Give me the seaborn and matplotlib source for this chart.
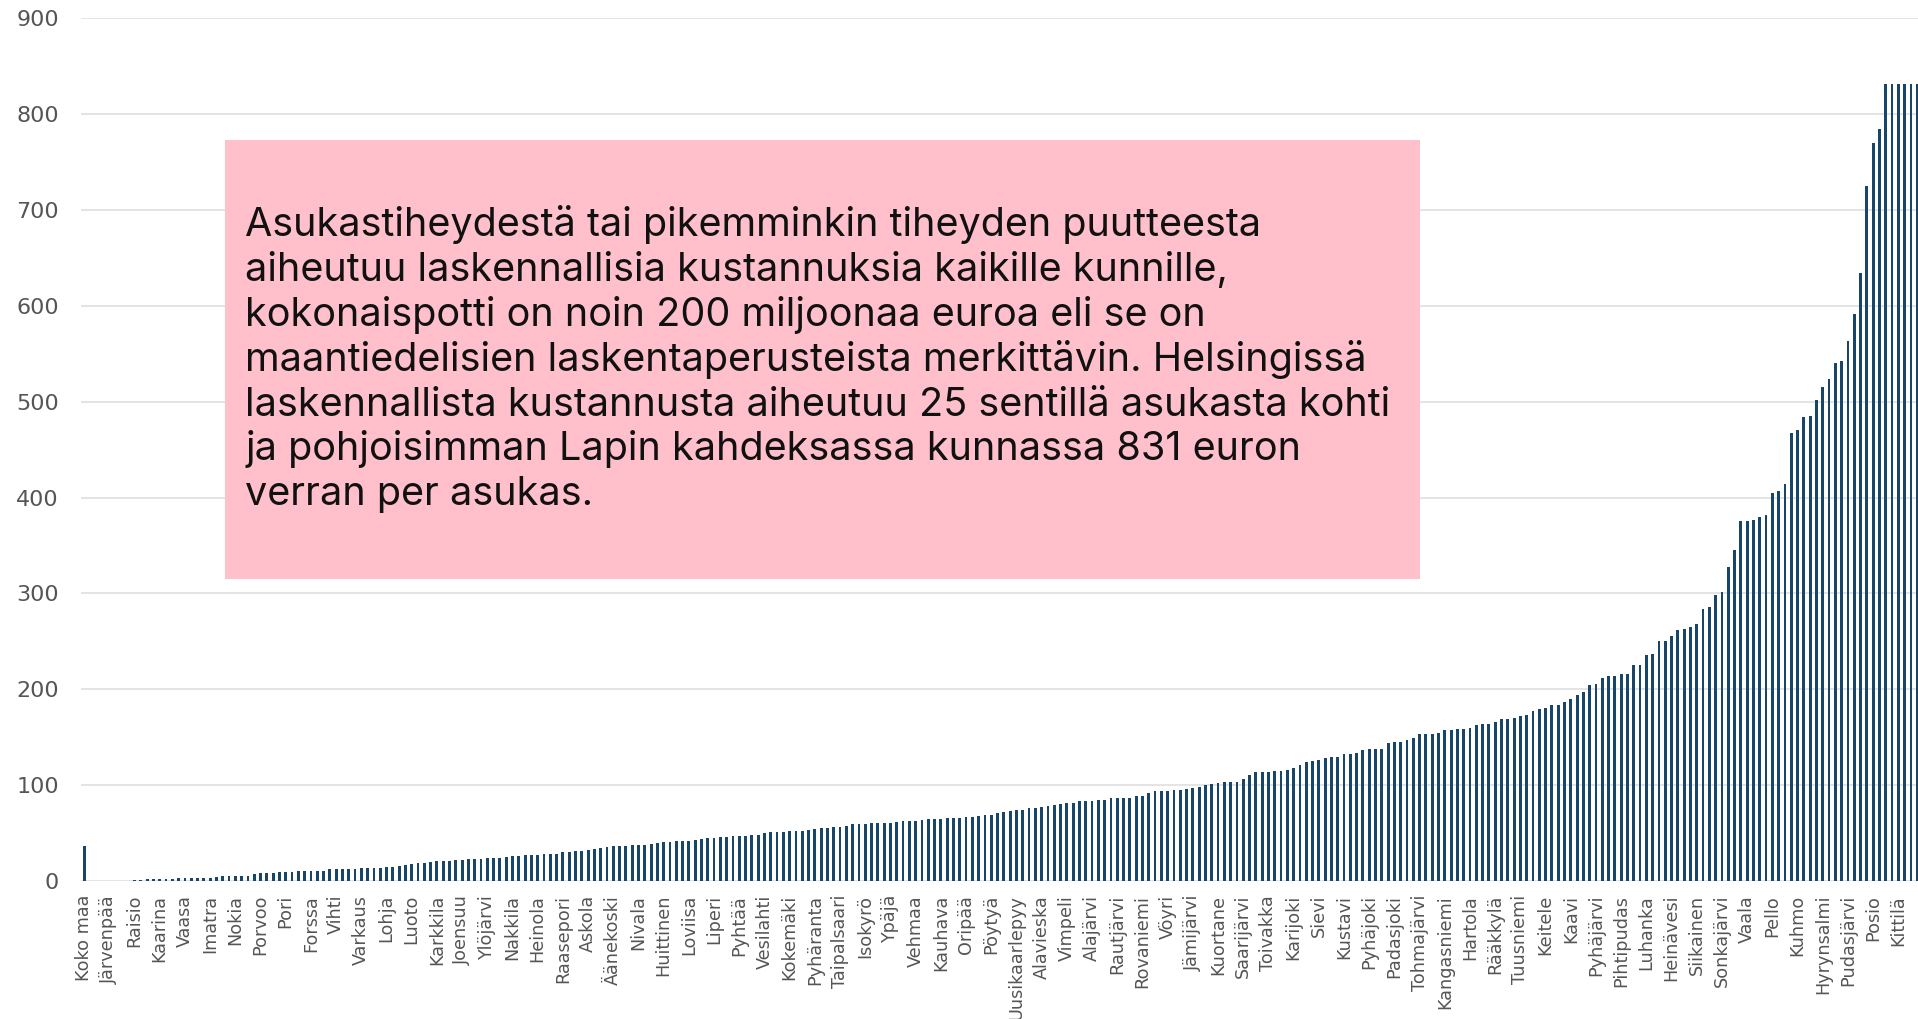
import numpy as np
import pandas as pd
import seaborn as sns
import matplotlib.pyplot as plt
from matplotlib.patches import Rectangle

# Laskennallinen kustannus asukastiheydestä, euroa / asukas (järjestetty)
values = [
    37.0, 0.25, 0.3, 0.3, 0.3, 0.4, 0.4, 0.5, 0.7, 0.7,
    1.7, 2.0, 2.0, 2.0, 2.4, 2.8, 3.1, 3.1, 3.1, 3.1,
    3.5, 4.2, 5.2, 5.2, 5.2, 5.2, 5.6, 7.3, 8.7, 8.7,
    8.7, 9.4, 9.4, 9.4, 10.1, 10.4, 10.4, 10.4, 10.8, 12.5,
    12.9, 12.9, 12.9, 12.9, 13.6, 13.6, 13.6, 13.6, 14.3, 15.0,
    15.5, 17.2, 18.1, 19.1, 19.1, 20.2, 20.5, 20.5, 21.2, 21.9,
    22.3, 23.0, 23.0, 23.3, 24.0, 24.0, 24.3, 25.0, 26.4, 26.4,
    26.8, 27.5, 27.5, 28.2, 28.5, 28.5, 30.3, 30.6, 31.3, 31.7,
    32.7, 33.4, 34.4, 35.8, 36.2, 36.2, 36.9, 37.9, 37.9, 37.9,
    39.0, 39.3, 40.3, 41.0, 41.7, 41.7, 42.1, 42.4, 43.8, 44.9,
    45.2, 45.6, 46.3, 47.3, 47.3, 47.3, 48.3, 48.3, 50.1, 50.8,
    51.5, 51.5, 51.8, 51.8, 52.5, 52.9, 54.6, 55.7, 55.7, 56.3,
    56.7, 57.7, 59.5, 59.8, 59.8, 60.2, 60.5, 60.5, 60.9, 61.9,
    62.6, 63.0, 63.0, 64.0, 64.7, 64.7, 64.7, 65.4, 66.1, 66.1,
    66.8, 66.8, 67.8, 68.9, 68.9, 71.0, 72.3, 73.0, 73.7, 73.7,
    75.8, 76.5, 77.2, 78.3, 79.5, 80.2, 81.6, 81.6, 83.0, 83.3,
    83.7, 84.0, 84.7, 86.1, 86.1, 86.4, 86.8, 88.5, 88.9, 91.3,
    94.1, 94.1, 94.4, 94.8, 94.8, 95.8, 96.5, 97.9, 99.7, 101.4,
    102.4, 102.8, 103.5, 103.8, 105.9, 110.8, 113.2, 113.2, 113.6, 114.3,
    114.6, 115.7, 117.4, 120.9, 124.3, 125.4, 126.4, 128.5, 128.9, 129.6,
    132.7, 133.0, 133.7, 136.6, 138.0, 138.2, 138.2, 143.8, 144.8, 144.8,
    147.6, 149.7, 153.1, 153.5, 153.5, 154.5, 157.6, 157.6, 159.0, 159.0,
    160.1, 162.5, 163.5, 163.5, 165.6, 168.8, 169.4, 170.1, 172.2, 172.9,
    177.4, 179.2, 180.6, 183.3, 183.7, 186.8, 190.3, 194.1, 197.2, 204.9,
    205.6, 211.8, 213.5, 213.9, 215.6, 216.0, 225.0, 225.0, 235.4, 236.8,
    250.0, 250.3, 255.6, 261.8, 263.2, 265.0, 268.0, 284.0, 286.0, 298.0,
    302.0, 328.0, 345.0, 376.0, 376.0, 377.0, 380.0, 382.0, 405.0, 407.0,
    414.0, 467.0, 470.0, 484.0, 485.0, 502.0, 515.0, 524.0, 540.0, 543.0,
    563.0, 592.0, 634.0, 725.0, 770.0, 785.0, 831.0, 831.0, 831.0, 831.0,
    831.0, 831.0, 831.0, 831.0,
]

# joka neljäs kunta nimetään akselilla (viimeinen jää kuvan ulkopuolelle)
tick_names = [
    'Koko maa', 'Järvenpää', 'Raisio', 'Kaarina', 'Vaasa', 'Imatra', 'Nokia',
    'Porvoo', 'Pori', 'Forssa', 'Vihti', 'Varkaus', 'Lohja', 'Luoto',
    'Karkkila', 'Joensuu', 'Ylöjärvi', 'Nakkila', 'Heinola', 'Raasepori',
    'Askola', 'Äänekoski', 'Nivala', 'Huittinen', 'Loviisa', 'Liperi',
    'Pyhtää', 'Vesilahti', 'Kokemäki', 'Pyhäranta', 'Taipalsaari', 'Isokyrö',
    'Ypäjä', 'Vehmaa', 'Kauhava', 'Oripää', 'Pöytyä', 'Uusikaarlepyy',
    'Alavieska', 'Vimpeli', 'Alajärvi', 'Rautjärvi', 'Rovaniemi', 'Vöyri',
    'Jämijärvi', 'Kuortane', 'Saarijärvi', 'Toivakka', 'Karijoki', 'Sievi',
    'Kustavi', 'Pyhäjoki', 'Padasjoki', 'Tohmajärvi', 'Kangasniemi',
    'Hartola', 'Rääkkylä', 'Tuusniemi', 'Keitele', 'Kaavi', 'Pyhäjärvi',
    'Pihtipudas', 'Luhanka', 'Heinävesi', 'Siikainen', 'Sonkajärvi', 'Vaala',
    'Pello', 'Kuhmo', 'Hyrynsalmi', 'Pudasjärvi', 'Posio', 'Kittilä',
]

y_ticks = [0, 100, 200, 300, 400, 500, 600, 700, 800, 900]

note_lines = [
    'Asukastiheydestä tai pikemminkin tiheyden puutteesta',
    'aiheutuu laskennallisia kustannuksia kaikille kunnille,',
    'kokonaispotti on noin 200 miljoonaa euroa eli se on',
    'maantiedelisien laskentaperusteista merkittävin. Helsingissä',
    'laskennallista kustannusta aiheutuu 25 sentillä asukasta kohti',
    'ja pohjoisimman Lapin kahdeksassa kunnassa 831 euron',
    'verran per asukas.',
]

df = pd.DataFrame({'pos': np.arange(len(values)), 'value': values})

W, H = 1918, 1019
sns.set_style('white')
fig = plt.figure(figsize=(W / 100, H / 100), dpi=100)

# akseli jatkuu kuvan oikean reunan yli kuten alkuperäisessä
left_px, right_px, base_px, top_px = 81, 1933, 881, 18.3
ax = fig.add_axes([left_px / W, (H - base_px) / H,
                   (right_px - left_px) / W, (base_px - top_px) / H])

sns.barplot(data=df, x='pos', y='value', ax=ax, color='#184668',
            saturation=1, width=0.45, linewidth=0, errorbar=None)

ax.set_xlim(-0.5, len(values) - 0.5)
ax.set_ylim(0, 900)
ax.set_yticks(y_ticks)
ax.set_yticklabels([str(t) for t in y_ticks])
ax.set_xticks(np.arange(0, 4 * len(tick_names), 4))
ax.set_xticklabels(tick_names, rotation=90)
ax.set_xlabel('')
ax.set_ylabel('')

ax.yaxis.grid(True, color='#dddddd', linewidth=1.1)
ax.set_axisbelow(True)
sns.despine(ax=ax, left=True, bottom=True)
ax.tick_params(axis='y', length=0, pad=16, labelsize=16, labelcolor='#555555')
ax.tick_params(axis='x', length=0, pad=10, labelsize=12.7, labelcolor='#555555')

# huomiolaatikko
box = Rectangle((225 / W, (H - 579) / H), 1195 / W, 439 / H,
                transform=fig.transFigure, facecolor='#ffc0cb',
                edgecolor='none', zorder=2)
fig.add_artist(box)

for i, line in enumerate(note_lines):
    y_px = 236 + i * 44.9
    fig.text(245 / W, (H - y_px) / H, line, ha='left', va='baseline',
             fontsize=28.5, family='Inter', color='#111111', zorder=3)

fig.savefig('out.png', dpi=100)
